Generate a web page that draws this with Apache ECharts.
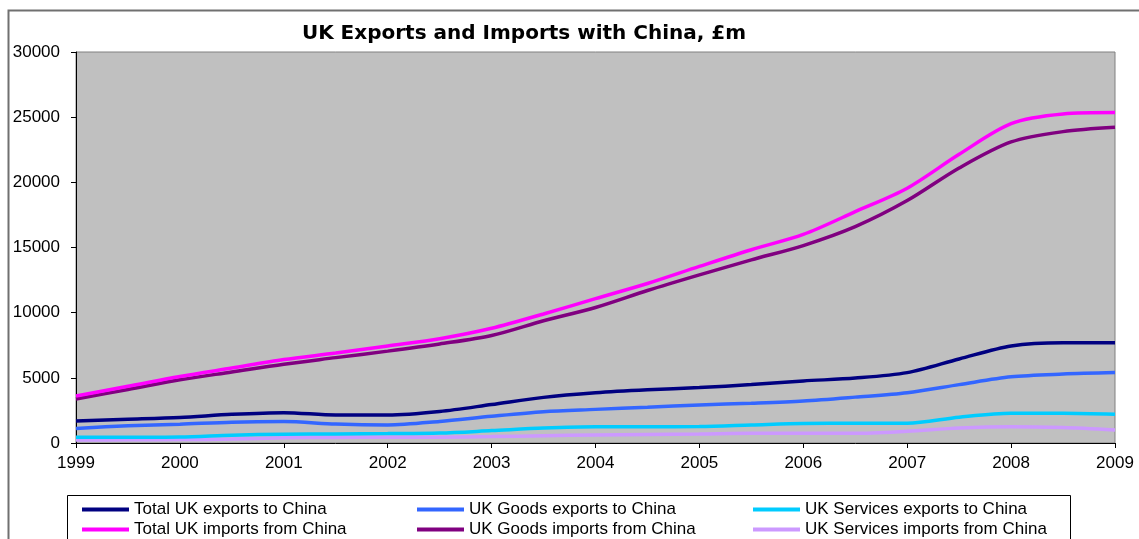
<!DOCTYPE html>
<html>
<head>
<meta charset="utf-8">
<script src="https://cdn.jsdelivr.net/npm/echarts@6/dist/echarts.min.js"></script>
<style>
  html, body { margin: 0; padding: 0; background: #ffffff; }
  #chart { width: 1139px; height: 539px; }
</style>
</head>
<body>
<div id="chart"></div>
<script>
// Half-yearly points, 1999 to 2009 (£m)
const years = [1999, 1999.5, 2000, 2000.5, 2001, 2001.5, 2002, 2002.5, 2003, 2003.5, 2004,
               2004.5, 2005, 2005.5, 2006, 2006.5, 2007, 2007.5, 2008, 2008.5, 2009];

const totalExports = [1690, 1820, 1960, 2200, 2330, 2150, 2150, 2420, 2950, 3500, 3850,
                      4080, 4250, 4480, 4760, 4980, 5400, 6450, 7450, 7700, 7700];
const goodsExports = [1120, 1320, 1440, 1600, 1650, 1450, 1380, 1650, 2050, 2400, 2580,
                      2750, 2920, 3050, 3220, 3520, 3860, 4480, 5080, 5290, 5400];
const servicesExports = [440, 440, 460, 600, 680, 700, 720, 760, 950, 1150, 1250,
                         1250, 1260, 1380, 1500, 1510, 1520, 1980, 2280, 2280, 2200];
const totalImports = [3600, 4350, 5100, 5750, 6400, 6900, 7450, 8000, 8800, 9900, 11080,
                      12240, 13550, 14830, 16000, 17750, 19550, 22150, 24500, 25240, 25350];
const goodsImports = [3380, 4100, 4850, 5450, 6050, 6550, 7050, 7600, 8250, 9380, 10400,
                      11700, 12900, 14050, 15150, 16600, 18600, 21100, 23100, 23890, 24220];
const servicesImports = [230, 240, 260, 300, 400, 430, 440, 450, 490, 560, 610,
                         650, 690, 750, 740, 740, 900, 1150, 1250, 1180, 1000];

const seriesNames = [
  'Total UK exports to China', 'UK Goods exports to China', 'UK Services exports to China',
  'Total UK imports from China', 'UK Goods imports from China', 'UK Services imports from China'
];
const seriesValues = [totalExports, goodsExports, servicesExports, totalImports, goodsImports, servicesImports];
const seriesColors = ['#000080', '#3366ff', '#00ccff', '#ff00ff', '#800080', '#cc99ff'];

const titleText = 'UK Exports and Imports with China, £m';

const FONT = '"Liberation Sans", Arial, sans-serif';

const chart = echarts.init(document.getElementById('chart'), null, { renderer: 'canvas' });

// legend cell positions: three columns, two rows
const legendCols = [77, 412, 748];
const legendRows = [496, 516];

const legends = seriesNames.map((name, i) => ({
  data: [name],
  left: legendCols[i % 3],
  top: legendRows[Math.floor(i / 3)],
  itemWidth: 47,
  itemHeight: 14,
  itemGap: 4,
  icon: 'path://M0,0 L47,0 L47,4 L0,4 Z',
  textStyle: { fontFamily: FONT, fontSize: 17, color: '#000' },
  selectedMode: false
}));

chart.setOption({
  animation: false,
  backgroundColor: '#ffffff',
  title: {
    text: titleText,
    left: 519,
    top: 19,
    textAlign: 'center',
    textStyle: { fontFamily: '"DejaVu Sans", Verdana, sans-serif', fontSize: 20, fontWeight: 'bold', color: '#000' }
  },
  legend: legends,
  graphic: [
    {
      type: 'rect',
      shape: { x: 8.5, y: 10.5, width: 1140, height: 540 },
      style: { fill: 'none', stroke: '#707070', lineWidth: 2 },
      silent: true, z: -1
    },
    {
      type: 'rect',
      shape: { x: 67.5, y: 495.5, width: 1003, height: 60 },
      style: { fill: 'none', stroke: '#000', lineWidth: 1 },
      silent: true
    }
  ],
  grid: {
    left: 76, right: 24, top: 52, bottom: 96,
    show: true,
    backgroundColor: '#c0c0c0',
    borderColor: '#808080',
    borderWidth: 1
  },
  xAxis: {
    type: 'value',
    min: 1999, max: 2009, interval: 1,
    axisLine: { show: true, lineStyle: { color: '#000', width: 1 } },
    axisTick: { show: true, inside: false, length: 5, lineStyle: { color: '#000' } },
    splitLine: { show: false },
    axisLabel: {
      margin: 12,
      fontFamily: FONT, fontSize: 17, color: '#000',
      formatter: v => String(v)
    }
  },
  yAxis: {
    type: 'value',
    min: 0, max: 30000, interval: 5000,
    axisLine: { show: true, lineStyle: { color: '#000', width: 1 } },
    axisTick: { show: true, inside: false, length: 5, lineStyle: { color: '#000' } },
    splitLine: { show: false },
    axisLabel: {
      margin: 16,
      fontFamily: FONT, fontSize: 17, color: '#000',
      formatter: v => String(v)
    }
  },
  series: seriesNames.map((name, i) => ({
    name: name,
    type: 'line',
    data: years.map((y, k) => [y, seriesValues[i][k]]),
    smooth: 0.3,
    showSymbol: false,
    symbol: 'none',
    color: seriesColors[i],
    lineStyle: { color: seriesColors[i], width: 3.5 },
    z: 10 - i
  }))
});
</script>
</body>
</html>
